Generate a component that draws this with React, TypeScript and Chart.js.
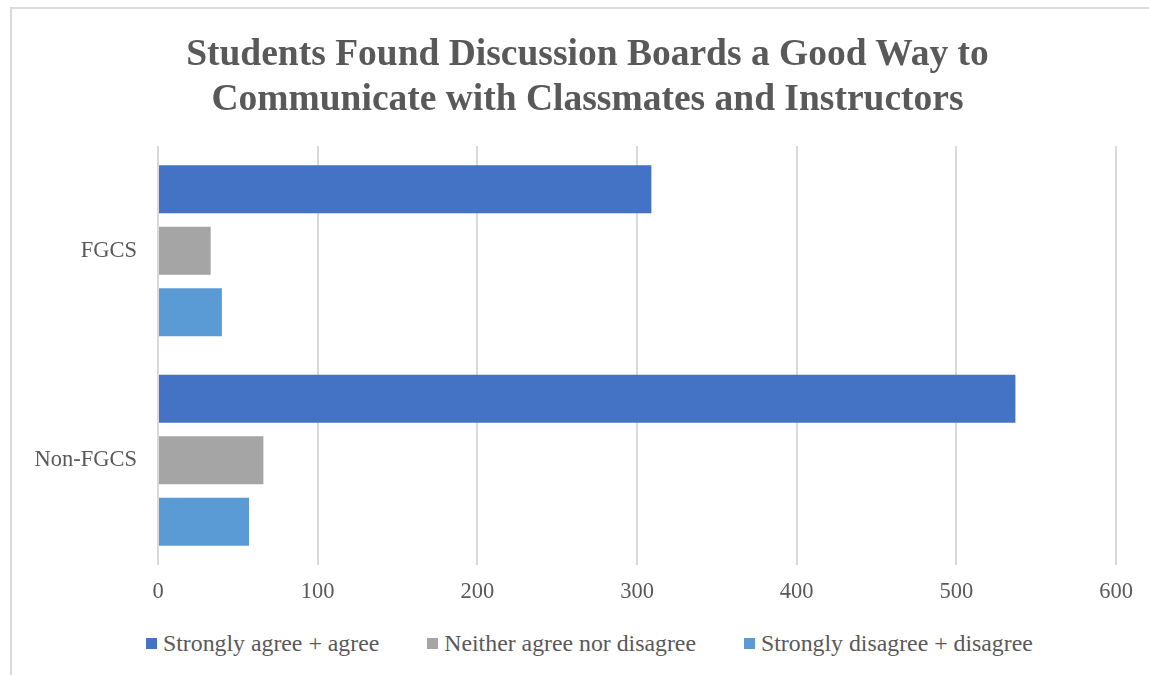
import React, { useEffect, useRef } from "react";
import { Chart, registerables } from "chart.js";

Chart.register(...registerables);

const titleLines = [
  "Students Found Discussion Boards a Good Way to",
  "Communicate with Classmates and Instructors",
];
const categories = ["FGCS", "Non-FGCS"];
const seriesNames = [
  "Strongly agree + agree",
  "Neither agree nor disagree",
  "Strongly disagree + disagree",
];
const seriesColors = ["#4472C4", "#A5A5A5", "#5B9BD5"];
const agreeValues = [309, 537];
const neutralValues = [33, 66];
const disagreeValues = [40, 57];
const xMin = 0;
const xMax = 600;
const xStep = 100;

const FONT = "'Liberation Serif', 'Times New Roman', serif";
const TEXT = "#595959";
const GRID = "#D9D9D9";

export default function App() {
  const canvasRef = useRef<HTMLCanvasElement | null>(null);

  useEffect(() => {
    const canvas = canvasRef.current;
    if (!canvas) return;
    const seriesValues = [agreeValues, neutralValues, disagreeValues];
    const chart = new Chart(canvas, {
      type: "bar",
      data: {
        labels: categories,
        datasets: seriesNames.map((name, i) => ({
          label: name,
          data: seriesValues[i],
          backgroundColor: seriesColors[i],
          borderWidth: 0,
          categoryPercentage: 0.88,
          barPercentage: 0.78,
        })),
      },
      options: {
        indexAxis: "y",
        animation: false,
        responsive: false,
        devicePixelRatio: 1,
        layout: { padding: { left: 0, right: 33, top: 146, bottom: 0 } },
        plugins: {
          legend: { display: false },
          tooltip: { enabled: false },
          title: { display: false },
        },
        scales: {
          x: {
            min: xMin,
            max: xMax,
            ticks: {
              stepSize: xStep,
              color: TEXT,
              font: { family: FONT, size: 22.5 },
              padding: 13.5,
            },
            grid: { color: GRID, lineWidth: 2, drawTicks: false },
            border: { display: false },
          },
          y: {
            ticks: {
              color: TEXT,
              font: { family: FONT, size: 22.5 },
              padding: 21,
            },
            grid: { display: false, drawTicks: false },
            border: { display: false },
            afterFit: (scale: any) => {
              scale.width = 158;
            },
          },
        },
      },
    });
    return () => chart.destroy();
  }, []);

  return (
    <div
      style={{
        position: "absolute",
        left: 0,
        top: 0,
        width: 1149,
        height: 675,
        overflow: "hidden",
        background: "#fff",
      }}
    >
      <div
        style={{
          position: "absolute",
          left: 10,
          top: 7,
          width: 1200,
          height: 700,
          border: "2px solid #D9D9D9",
        }}
      />
      <canvas
        ref={canvasRef}
        width={1149}
        height={619}
        style={{ position: "absolute", left: 0, top: 0, width: 1149, height: 619 }}
      />
      <div
        style={{
          position: "absolute",
          left: 0,
          top: 29.5,
          width: 1175,
          textAlign: "center",
          fontFamily: FONT,
          fontWeight: "bold",
          fontSize: 37.5,
          lineHeight: "45px",
          color: TEXT,
          whiteSpace: "nowrap",
        }}
      >
        {titleLines.map((line) => (
          <div key={line}>{line}</div>
        ))}
      </div>
      <div
        style={{
          position: "absolute",
          left: 146,
          top: 628,
          display: "flex",
          gap: 48,
          alignItems: "center",
          fontFamily: FONT,
          fontSize: 23.8,
          color: TEXT,
          lineHeight: "30px",
          whiteSpace: "nowrap",
        }}
      >
        {seriesNames.map((name, i) => (
          <div key={name} style={{ display: "flex", alignItems: "center" }}>
            <span
              style={{
                display: "inline-block",
                width: 11,
                height: 11,
                background: seriesColors[i],
                marginRight: 6,
              }}
            />
            <span>{name}</span>
          </div>
        ))}
      </div>
    </div>
  );
}
